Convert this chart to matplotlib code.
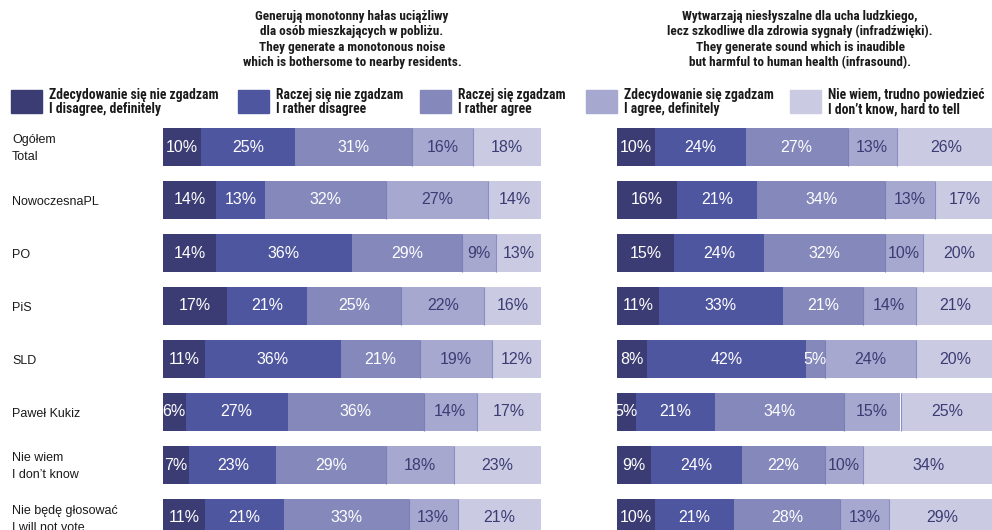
import numpy as np
import matplotlib.pyplot as plt
import matplotlib.transforms as mtransforms
from matplotlib import font_manager
from matplotlib.patches import Rectangle

plt.rcParams['font.family'] = ['Liberation Sans', 'DejaVu Sans']

# rows (top to bottom)
groups = ['Ogółem\nTotal', 'NowoczesnaPL', 'PO', 'PiS', 'SLD', 'Paweł Kukiz',
          'Nie wiem\nI don\u2019t know', 'Nie będę głosować\nI will not vote']

answers = ['Zdecydowanie się nie zgadzam\nI disagree, definitely',
           'Raczej się nie zgadzam\nI rather disagree',
           'Raczej się zgadzam\nI rather agree',
           'Zdecydowanie się zgadzam\nI agree, definitely',
           'Nie wiem, trudno powiedzieć\nI don\u2019t know, hard to tell']

title_left = ('Generują monotonny hałas uciążliwy\ndla osób mieszkających w pobliżu.\n'
              'They generate a monotonous noise\nwhich is bothersome to nearby residents.')
title_right = ('Wytwarzają niesłyszalne dla ucha ludzkiego,\nlecz szkodliwe dla zdrowia sygnały (infradźwięki).\n'
               'They generate sound which is inaudible\nbut harmful to human health (infrasound).')

# left panel: noise
noise_disagree_def = [10, 14, 14, 17, 11, 6, 7, 11]
noise_disagree = [25, 13, 36, 21, 36, 27, 23, 21]
noise_agree = [31, 32, 29, 25, 21, 36, 29, 33]
noise_agree_def = [16, 27, 9, 22, 19, 14, 18, 13]
noise_dont_know = [18, 14, 13, 16, 12, 17, 23, 21]

# right panel: infrasound
infra_disagree_def = [10, 16, 15, 11, 8, 5, 9, 10]
infra_disagree = [24, 21, 24, 33, 42, 21, 24, 21]
infra_agree = [27, 34, 32, 21, 5, 34, 22, 28]
infra_agree_def = [13, 13, 10, 14, 24, 15, 10, 13]
infra_dont_know = [26, 17, 20, 21, 20, 25, 34, 29]

colors = ['#3c3c74', '#4f56a0', '#8488bb', '#a6a8cf', '#cacbe2']
text_colors = ['white', 'white', 'white', '#3c3c74', '#3c3c74']

# condensed bold face for titles / legend if one is installed, else a smaller Arial-like bold
installed = {f.name for f in font_manager.fontManager.ttflist}
narrow_fam = None
for cand in ['Liberation Sans Narrow', 'Roboto Condensed', 'Open Sans Condensed', 'Arial Narrow']:
    if cand in installed:
        narrow_fam = cand
        break
if narrow_fam:
    head_font = dict(family=[narrow_fam, 'DejaVu Sans'], fontsize=9.5)
    leg_font = dict(family=[narrow_fam, 'DejaVu Sans'], fontsize=9.8)
else:
    head_font = dict(family=['Liberation Sans', 'DejaVu Sans'], fontsize=7.8)
    leg_font = dict(family=['Liberation Sans', 'DejaVu Sans'], fontsize=7.6)

W, H = 992, 530
fig = plt.figure(figsize=(W / 100, H / 100), dpi=100)


def px_box(x0, x1, y_top, y_bot):
    return [x0 / W, 1 - y_bot / H, (x1 - x0) / W, (y_bot - y_top) / H]


def draw_panel(ax, series, show_labels):
    y = np.arange(len(groups))
    left = np.zeros(len(groups))
    for k, vals in enumerate(series):
        vals = np.array(vals, dtype=float)
        # last answer fills the rest of the bar, as in the original
        widths = 100 - left if k == len(series) - 1 else vals
        ax.barh(y, widths, left=left, height=0.717, color=colors[k], linewidth=0)
        for i in range(len(y)):
            ax.text(left[i] + widths[i] / 2, y[i], f'{int(vals[i])}%', ha='center', va='center',
                    color=text_colors[k], fontsize=11.5)
        if k == 2:
            ax.vlines(left + widths, y - 0.358, y + 0.358, color='#7b7fb8', linewidth=0.8)
        if k == 3:
            ax.vlines(left + widths, y - 0.358, y + 0.358, color='#8a8ec2', linewidth=0.8)
        left = left + widths
    ax.set_xlim(0, 100)
    ax.set_ylim(len(groups) - 0.5, -0.5)
    ax.axis('off')
    if show_labels:
        trans = mtransforms.blended_transform_factory(ax.transAxes, ax.transData)
        for i, g in enumerate(groups):
            ax.text(-0.3995, y[i] + 0.03, g, transform=trans, ha='left', va='center',
                    fontsize=9, linespacing=1.6, color='#1a1a1a')


ax1 = fig.add_axes(px_box(163, 541, 120.5, 544.5))
ax2 = fig.add_axes(px_box(617, 995, 120.5, 544.5))
draw_panel(ax1, [noise_disagree_def, noise_disagree, noise_agree, noise_agree_def, noise_dont_know], True)
draw_panel(ax2, [infra_disagree_def, infra_disagree, infra_agree, infra_agree_def, infra_dont_know], False)

fig.text(352 / W, 1 - 39.5 / H, title_left, ha='center', va='center', fontweight='bold',
         linespacing=1.22, color='#1a1a1a', **head_font)
fig.text(800 / W, 1 - 39.5 / H, title_right, ha='center', va='center', fontweight='bold',
         linespacing=1.22, color='#1a1a1a', **head_font)

# legend
patch_x = [11, 238, 420, 586, 790]
for k, lab in enumerate(answers):
    fig.patches.append(Rectangle((patch_x[k] / W, 1 - 113 / H), 31 / W, 23 / H,
                                 transform=fig.transFigure, color=colors[k]))
    fig.text((patch_x[k] + 38) / W, 1 - 102 / H, lab, ha='left', va='center', fontweight='bold',
             linespacing=1.05, color='#1a1a1a', **leg_font)

plt.savefig('out.png', dpi=100)
